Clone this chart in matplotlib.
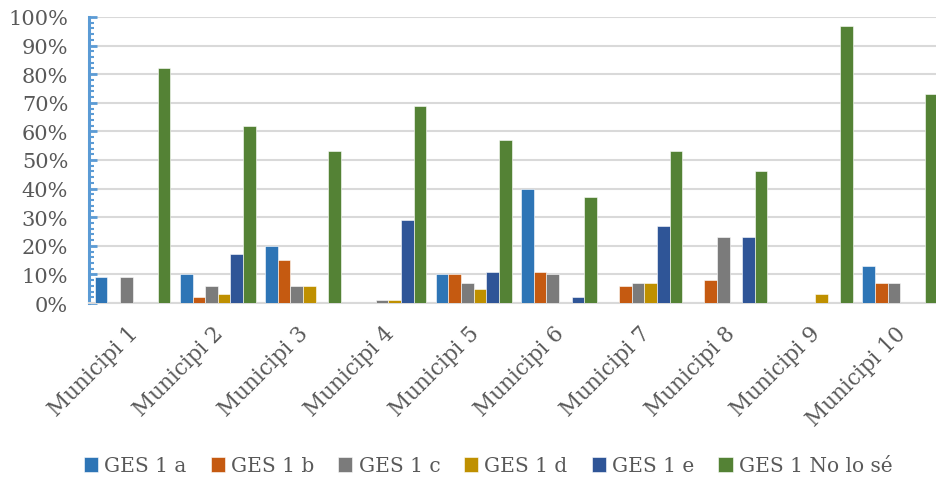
import numpy as np
import matplotlib
matplotlib.use('Agg')
import matplotlib.pyplot as plt
from matplotlib.ticker import MultipleLocator, PercentFormatter

# data (percent)
municipis = ['Municipi 1', 'Municipi 2', 'Municipi 3', 'Municipi 4', 'Municipi 5',
             'Municipi 6', 'Municipi 7', 'Municipi 8', 'Municipi 9', 'Municipi 10']
series_names = ['GES 1 a', 'GES 1 b', 'GES 1 c', 'GES 1 d', 'GES 1 e', 'GES 1 No lo sé']
ges_a  = [9, 10, 20, 0, 10, 40, 0, 0, 0, 13]
ges_b  = [0, 2, 15, 0, 10, 11, 6, 8, 0, 7]
ges_c  = [9, 6, 6, 1, 7, 10, 7, 23, 0, 7]
ges_d  = [0, 3, 6, 1, 5, 0, 7, 0, 3, 0]
ges_e  = [0, 17, 0, 29, 11, 2, 27, 23, 0, 0]
ges_no = [82, 62, 53, 69, 57, 37, 53, 46, 97, 73]

colors = ['#2E75B6', '#C55A11', '#7B7B7B', '#BF9000', '#2F5597', '#548235']

plt.rcParams['font.family'] = ['DejaVu Serif']

fig = plt.figure(figsize=(9.37, 4.81), dpi=100)
ax = fig.add_axes([89/937, 1 - 304/481, (942 - 89)/937, (304 - 18)/481])

x = np.arange(len(municipis))
w = 0.148
all_series = [ges_a, ges_b, ges_c, ges_d, ges_e, ges_no]
for i, (vals, name, col) in enumerate(zip(all_series, series_names, colors)):
    ax.bar(x + (i - 2.5) * w + 0.01, np.array(vals) / 100, width=w, color=col,
           edgecolor='white', linewidth=0.4, label=name, zorder=3)

ax.set_xlim(-0.5, len(municipis) - 0.5)
ax.set_ylim(0, 1)
ax.yaxis.set_major_locator(MultipleLocator(0.1))
ax.yaxis.set_minor_locator(MultipleLocator(0.02))
ax.yaxis.set_major_formatter(PercentFormatter(1.0, decimals=0))
ax.grid(axis='y', color='#D9D9D9', linewidth=1.5, zorder=0)
ax.set_axisbelow(True)

for s in ['top', 'right']:
    ax.spines[s].set_visible(False)
ax.spines['left'].set_color('#5B9BD5')
ax.spines['left'].set_linewidth(2.2)
ax.spines['bottom'].set_color('#D9D9D9')
ax.spines['bottom'].set_linewidth(1.5)

ax.tick_params(axis='y', which='major', direction='in', length=6, width=2,
               color='#5B9BD5', pad=15, labelsize=15, labelcolor='#595959')
ax.tick_params(axis='y', which='minor', direction='in', length=3.5, width=1.5,
               color='#5B9BD5')
ax.set_xticks(x)
ax.set_xticklabels([m + ' ' for m in municipis], rotation=45, ha='right',
                   rotation_mode='anchor', fontsize=15.5, color='#595959')
ax.tick_params(axis='x', length=0, pad=10)

fig.legend(loc='center', bbox_to_anchor=(0.521, 1 - 467/481), ncol=6, frameon=False,
           fontsize=14.5, handlelength=0.7, handleheight=0.7, handletextpad=0.3,
           columnspacing=1.2, labelcolor='#595959')

fig.savefig('out.png', dpi=100)
